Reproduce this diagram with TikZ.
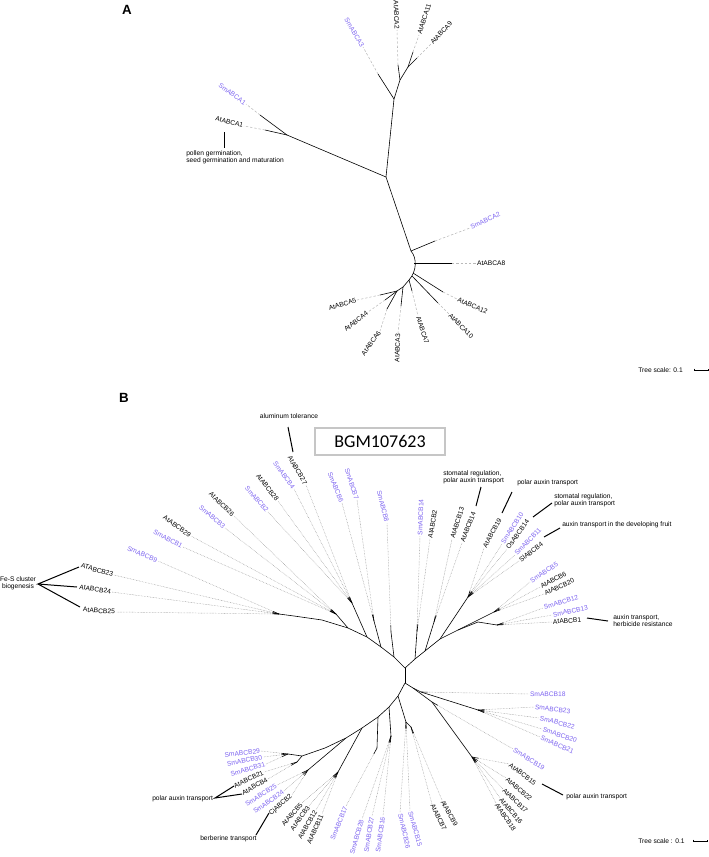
\documentclass[tikz,border=0pt]{standalone}
\usepackage{fontspec}
\setmainfont{Liberation Sans}
\newfontfamily\carl{Carlito}
\usetikzlibrary{calc}
\definecolor{smc}{RGB}{125,100,240}
\newcommand{\leafB}[7]{%
  \coordinate (p#2) at (#3,#4);
  \node[lab,rotate=#5,#6] (t#2) at (p#2) {#7};
  \draw[br] (#1) -- ($(#1)!5pt!(p#2)$) coordinate (s#2);
  \draw[dl] (s#2) -- (p#2);
}
\newcommand{\leafA}[9]{%
  \coordinate (u#2) at (#3,#4);
  \coordinate (v#2) at (#5,#6);
  \draw[br] (#1) -- (u#2);
  \draw[dsh] (u#2) -- (v#2);
  \node[lab,rotate=#7,#8] (t#2) at (v#2) {#9};
}
\begin{document}
\begin{tikzpicture}[x=0.75pt,y=-0.75pt,
  br/.style={line width=0.45pt,black},
  dl/.style={line width=0.35pt,gray!80,dash pattern=on 0.45pt off 0.7pt},
  dsh/.style={line width=0.4pt,gray!55,dash pattern=on 1.8pt off 1.4pt},
  ann/.style={line width=0.75pt,black},
  lab/.style={font=\fontsize{5}{6}\selectfont,inner sep=0.6pt},
  sm/.style={text=smc},
  txt/.style={font=\fontsize{5}{5.4}\selectfont,inner sep=0pt,align=left},
  panel/.style={font=\bfseries\fontsize{10}{12}\selectfont,inner sep=0pt}]
\useasboundingbox (0,0) rectangle (709,857);

% ================= Panel A =================
\node[panel] (pA) at (127,10) {A};
\coordinate (RA) at (386,177);
\coordinate (J1) at (394,99);
\coordinate (J2) at (400,80);
\coordinate (J3) at (408,67);
\coordinate (J4) at (287,135);
\coordinate (J5) at (411,251);
\coordinate (J6) at (409,280);
\coordinate (J7) at (414,263);
\coordinate (J8) at (403,287);
\coordinate (J9) at (397,291);
\coordinate (J10) at (413,273);
\coordinate (J11) at (412,276);
\draw[br] (J4) -- (RA) -- (J1) -- (J2) -- (J3);
\draw[br] (RA) -- (J5);
\draw[br] (J5) .. controls (417,258) and (417,271) .. (J6) -- (J8) -- (J9);

\leafA{J1}{a3}{378}{74}{363}{47}{-59}{anchor=east,sm}{SmABCA3}
\leafA{J2}{a2}{398}{65}{397}{30}{-88}{anchor=east}{AtABCA2}
\leafA{J3}{a11}{413}{52}{419}{35}{72}{anchor=west}{AtABCA11}
\leafA{J3}{a9}{417}{58}{431}{44}{47}{anchor=west}{AtABCA9}
\leafA{J4}{a1s}{260}{115}{246}{104}{-36}{anchor=east,sm}{SmABCA1}
\leafA{J4}{a1}{265}{130}{244}{126}{-15}{anchor=east}{AtABCA1}
\leafA{J5}{a2s}{435}{241}{470}{228}{26}{anchor=west,sm}{SmABCA2}
\leafA{J7}{a8}{452}{263}{476}{263}{0}{anchor=west}{AtABCA8}
\leafA{J10}{a12}{443}{292}{457}{299}{-24}{anchor=west}{AtABCA12}
\leafA{J11}{a10}{438}{303}{449}{314}{-45}{anchor=west}{AtABCA10}
\leafA{J6}{a7}{412}{291}{418}{316}{-72}{anchor=west}{AtABCA7}
\leafA{J8}{a3b}{401}{306}{398}{333}{88}{anchor=east}{AtABCA3}
\leafA{J9}{a6}{387}{309}{380}{331}{54}{anchor=east}{AtABCA6}
\leafA{J9}{a4}{385}{300}{368}{312}{38}{anchor=east}{AtABCA4}
\leafA{J9}{a5}{380}{295}{357}{300}{17}{anchor=east}{AtABCA5}

\node[txt,anchor=west] (annA) at (186,157.5) {pollen germination,\\seed germination and maturation};
\coordinate (pg1) at (224,132);
\coordinate (pg2) at (224,148);
\draw[ann] (pg1) -- (pg2);

\node[txt,anchor=west] (tsA) at (638,370) {Tree scale: 0.1};
\coordinate (sa1) at (694,368.5);
\coordinate (sa2) at (708,368.5);
\draw[br] (sa1) -- ++(0,1.5) -| (sa2);

% ================= Panel B =================
\node[panel] (pB) at (124,398) {B};
\node[draw=gray!45,line width=0.8pt,minimum width=97.5pt,minimum height=20.25pt,inner sep=0pt,
      font=\carl\fontsize{13.5}{15}\selectfont] (bgm) at (380,441.5) {BGM107623};

\coordinate (C1) at (405,668);
\coordinate (C2) at (405,683);
\coordinate (L1) at (394,657);
\coordinate (L2) at (381,647);
\coordinate (L3) at (367,637);
\coordinate (L4) at (348,628);
\coordinate (L5) at (322,620);
\coordinate (L6) at (294,616);
\coordinate (K1) at (279,614);
\coordinate (K2) at (336,614);
\coordinate (K3) at (352,603);
\coordinate (K4) at (374,621);
\coordinate (K5) at (391,632);
\coordinate (R1) at (415,659);
\coordinate (R2) at (425,651);
\coordinate (R3) at (440,639);
\coordinate (R4) at (458,630);
\coordinate (R5) at (478,622);
\coordinate (K6) at (417,631);
\coordinate (K7) at (434,622);
\coordinate (K8) at (468,597);
\coordinate (K9) at (494,612);
\coordinate (K10) at (497,625);
\coordinate (E0) at (413,688);
\coordinate (E1) at (421,692);
\coordinate (E2) at (478,710);
\coordinate (E3) at (432,702);
\coordinate (E4) at (472,757);
\coordinate (D1) at (398,696);
\coordinate (D2) at (389,707);
\coordinate (D3) at (378,717);
\coordinate (D4) at (362,728);
\coordinate (D5) at (346,738);
\coordinate (D6) at (325,748);
\coordinate (Q1) at (406,722);
\coordinate (Q2) at (411,727);
\coordinate (Q3) at (391,736);
\coordinate (Q4) at (377,748);
\coordinate (Q5) at (338,772);
\coordinate (Q6) at (308,770);
\coordinate (Q7) at (302,756);
\coordinate (Q7a) at (288,754);
\coordinate (Q7b) at (297,762);

\draw[br] (L6) -- (L5) -- (L4) -- (L3) -- (L2) -- (L1) -- (C1) -- (R1) -- (R2) -- (R3) -- (R4) -- (R5);
\draw[br] (C1) -- (C2);
\draw[br] (C2) -- (D1) -- (D2) -- (D3) -- (D4) -- (D5) -- (D6) -- (Q7);
\draw[br] (C2) -- (E0) -- (E1) -- (E2);
\draw[br] (E0) -- (E3) -- (E4);
\draw[br] (L6) -- (K1);
\draw[br] (L4) -- (K2);
\draw[br] (L3) -- (K3);
\draw[br] (L2) -- (K4);
\draw[br] (L1) -- (K5);
\draw[br] (R1) -- (K6);
\draw[br] (R2) -- (K7);
\draw[br] (R3) -- (K8);
\draw[br] (R4) -- (K9);
\draw[br] (R5) -- (K10);
\draw[br] (D1) -- (Q1) -- (Q2);
\draw[br] (D2) -- (Q3);
\draw[br] (D3) -- (Q4);
\draw[br] (D4) -- (Q5);
\draw[br] (D5) -- (Q6);
\draw[br] (Q7) -- (Q7a);
\draw[br] (Q7) -- (Q7b);

\leafB{K1}{b23}{114}{575}{-16}{anchor=east}{ATABCB23}
\leafB{K1}{b24}{112}{592}{-9}{anchor=east}{AtABCB24}
\leafB{K1}{b25}{116}{612}{-4}{anchor=east}{AtABCB25}
\leafB{K1}{s9}{158}{561}{-23}{anchor=east,sm}{SmABCB9}
\leafB{K2}{s1}{183}{547}{-28}{anchor=east,sm}{SmABCB1}
\leafB{K2}{b29}{191}{536}{-35}{anchor=east}{AtABCB29}
\leafB{K2}{s3}{225}{528}{-41}{anchor=east,sm}{SmABCB3}
\leafB{K2}{b26}{234}{516}{-44}{anchor=east}{AtABCB26}
\leafB{K3}{s2}{268}{512}{-49}{anchor=east,sm}{SmABCB2}
\leafB{K3}{b28}{278}{501}{-52}{anchor=east}{AtABCB28}
\leafB{K3}{s4}{294}{489}{-54}{anchor=east,sm}{SmABCB4}
\leafB{K3}{b27}{306}{485}{-60}{anchor=east}{AtABCB27}
\leafB{K4}{s6}{342}{503}{-68}{anchor=east,sm}{SmABCB6}
\leafB{K4}{s7}{357}{500}{-72}{anchor=east,sm}{SmABCB7}
\leafB{K5}{s8}{387}{523}{-76}{anchor=east,sm}{SmABCB8}
\leafB{K6}{s14}{420}{536}{88}{anchor=west,sm}{SmABCB14}
\leafB{K6}{b2}{430}{539}{80}{anchor=west}{AtABCB2}
\leafB{K7}{b13}{452}{539}{72}{anchor=west}{AtABCB13}
\leafB{K7}{b14}{462}{543}{69}{anchor=west}{AtABCB14}
\leafB{K8}{b19}{484}{548}{61}{anchor=west}{AtABCB19}
\leafB{K8}{s10}{502}{544}{57}{anchor=west,sm}{SmABCB10}
\leafB{K8}{os14}{507}{549}{54}{anchor=west}{OsABCB14}
\leafB{K8}{s11}{515}{555}{46}{anchor=west,sm}{SmABCB11}
\leafB{K8}{sl4}{519}{561}{37}{anchor=west}{SlABCB4}
\leafB{K9}{s5}{530}{582}{34}{anchor=west,sm}{SmABCB5}
\leafB{K9}{b6}{540}{587}{28}{anchor=west}{AtABCB6}
\leafB{K9}{b20}{544}{594}{25}{anchor=west}{AtABCB20}
\leafB{K10}{s12}{543}{608}{17}{anchor=west,sm}{SmABCB12}
\leafB{K10}{s13}{552}{615}{12}{anchor=west,sm}{SmABCB13}
\leafB{K10}{b1}{552}{622}{4}{anchor=west}{AtABCB1}
\leafB{E1}{s18}{529}{694}{-1}{anchor=west,sm}{SmABCB18}
\leafB{E2}{s23}{534}{707}{-7}{anchor=west,sm}{SmABCB23}
\leafB{E2}{s22}{539}{718}{-14}{anchor=west,sm}{SmABCB22}
\leafB{E2}{s20}{542}{729}{-19}{anchor=west,sm}{SmABCB20}
\leafB{E2}{s21}{540}{737}{-24}{anchor=west,sm}{SmABCB21}
\leafB{E3}{s19}{513}{749}{-32}{anchor=west,sm}{SmABCB19}
\leafB{E4}{b15}{509}{764}{-37}{anchor=west}{AtABCB15}
\leafB{E4}{b22}{506}{778}{-41}{anchor=west}{AtABCB22}
\leafB{E4}{b17}{503}{789}{-44}{anchor=west}{AtABCB17}
\leafB{E4}{b16}{500}{798}{-50}{anchor=west}{AtABCB16}
\leafB{E4}{b18}{496}{803}{-56}{anchor=west}{AtABCB18}
\leafB{Q2}{b9}{442}{800}{-61}{anchor=west}{AtABCB9}
\leafB{Q2}{b7}{432}{804}{-64}{anchor=west}{AtABCB7}
\leafB{Q1}{s15}{410}{811}{-74}{anchor=west,sm}{SmABCB15}
\leafB{Q1}{s26}{400}{813}{-77}{anchor=west,sm}{SmABCB26}
\leafB{Q3}{s16}{383}{816}{82}{anchor=east,sm}{SmABCB16}
\leafB{Q3}{s27}{372}{816}{81}{anchor=east,sm}{SmABCB27}
\leafB{Q3}{s28}{362}{819}{74}{anchor=east,sm}{SmABCB28}
\leafB{Q4}{s17}{346}{806}{68}{anchor=east,sm}{SmABCB17}
\leafB{Q5}{b11}{322}{814}{66}{anchor=east}{AtABCB11}
\leafB{Q5}{b12}{316}{810}{60}{anchor=east}{AtABCB12}
\leafB{Q5}{b3}{309}{806}{54}{anchor=east}{AtABCB3}
\leafB{Q5}{b5}{302}{803}{49}{anchor=east}{AtABCB5}
\leafB{Q6}{cj2}{292}{795}{42}{anchor=east}{CjABCB2}
\leafB{Q6}{s24}{284}{791}{35}{anchor=east,sm}{SmABCB24}
\leafB{Q6}{s25}{277}{785}{32}{anchor=east,sm}{SmABCB25}
\leafB{Q7b}{b4}{268}{779}{29}{anchor=east}{AtABCB4}
\leafB{Q7b}{b21}{264}{772}{25}{anchor=east}{AtABCB21}
\leafB{Q7a}{s31}{266}{764}{16}{anchor=east,sm}{SmABCB31}
\leafB{Q7a}{s30}{263}{757}{12}{anchor=east,sm}{SmABCB30}
\leafB{Q7a}{s29}{261}{751}{6}{anchor=east,sm}{SmABCB29}

% annotations
\node[txt,anchor=center] (alum) at (289,416) {aluminum tolerance};
\coordinate (al1) at (288,427); \coordinate (al2) at (293,452);
\draw[ann] (al1) -- (al2);
\node[txt,anchor=west] (stom1) at (443,477) {stomatal regulation,\\polar auxin transport};
\coordinate (st1a) at (481,487); \coordinate (st1b) at (476,506);
\draw[ann] (st1a) -- (st1b);
\node[txt,anchor=west] (pol19) at (517,483) {polar auxin transport};
\coordinate (p19a) at (512,492); \coordinate (p19b) at (502,513);
\draw[ann] (p19a) -- (p19b);
\node[txt,anchor=west] (stom2) at (554,500.5) {stomatal regulation,\\polar auxin transport};
\coordinate (st2a) at (552,503); \coordinate (st2b) at (533,517);
\draw[ann] (st2a) -- (st2b);
\node[txt,anchor=west] (fruit) at (562,525) {auxin transport in the developing fruit};
\coordinate (fra) at (560,528); \coordinate (frb) at (544,537);
\draw[ann] (fra) -- (frb);
\node[txt,anchor=west] (herb) at (613,621) {auxin transport,\\herbicide resistance};
\coordinate (hba) at (587,618); \coordinate (hbb) at (608,621);
\draw[ann] (hba) -- (hbb);
\node[txt,anchor=west] (pol15) at (566,797) {polar auxin transport};
\coordinate (p15a) at (542,784); \coordinate (p15b) at (563,795);
\draw[ann] (p15a) -- (p15b);
\node[txt,anchor=west] (berb) at (200,839) {berberine transport};
\coordinate (bba) at (256,835); \coordinate (bbb) at (269,813);
\draw[ann] (bba) -- (bbb);
\node[txt,anchor=west] (pol21) at (152,799) {polar auxin transport};
\coordinate (p21) at (215,798); \coordinate (p21a) at (234,786); \coordinate (p21b) at (242,794);
\draw[ann] (p21a) -- (p21) -- (p21b);
\node[txt,align=center,anchor=center] (fes) at (18,583.5) {Fe-S cluster\\biogenesis};
\coordinate (fe) at (38,584);
\coordinate (fe1) at (79,567); \coordinate (fe2) at (77,587); \coordinate (fe3) at (80,607);
\draw[ann] (fe1) -- (fe) -- (fe2);
\draw[ann] (fe) -- (fe3);

\node[txt,anchor=west] (tsB) at (638,841) {Tree scale : 0.1};
\coordinate (sb1) at (693,839.5);
\coordinate (sb2) at (707,839.5);
\draw[br] (sb1) -- ++(0,1.5) -| (sb2);
\end{tikzpicture}
\end{document}
